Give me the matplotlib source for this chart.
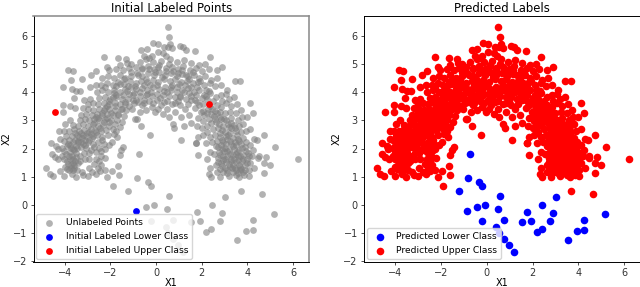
"""Initial labeled points vs predicted labels on the arch-shaped data."""

import matplotlib

matplotlib.use("Agg")
import matplotlib.pyplot as plt
import numpy as np

# points, (x1, x2)
lower_class = [
    (-0.75, 1.79), (-0.83, 0.95), (-0.35, 0.82), (-0.23, 0.67), (-1.21, 0.48),
    (0.57, 0.30), (3.03, 0.27), (2.43, -0.01), (-0.10, -0.01), (-0.44, -0.07),
    (0.48, -0.14), (1.78, -0.27), (2.89, -0.31), (5.16, -0.33), (-0.23, -0.57),
    (0.75, -0.54), (2.78, -0.57), (1.94, -0.57), (1.55, -0.63), (4.25, -0.54),
    (0.42, -0.80), (2.40, -0.88), (2.18, -0.98), (3.93, -0.95), (4.23, -0.89),
    (3.54, -1.26), (0.76, -1.21), (0.96, -1.44), (1.20, -1.67), (0.54, -0.99),
]
start_lower = [(-0.88, -0.21)]
start_upper = [(-4.43, 3.32), (2.30, 3.58)]

upper_outer = [
    (-1.90, 0.67), (3.70, 0.48), (4.65, 0.37), (6.20, 1.63), (5.20, 2.05),
    (0.51, 6.32), (0.58, 5.98), (0.61, 5.71), (0.54, 5.62), (0.69, 5.58),
    (-0.15, 5.77), (0.07, 5.74), (1.05, 5.64), (1.17, 5.62), (1.30, 5.51),
    (1.71, 5.48), (-0.64, 5.50), (-0.41, 5.54), (0.07, 5.44), (0.34, 5.62),
    (0.32, 5.40), (2.37, 5.25), (-2.28, 5.25), (-1.67, 5.23), (-1.32, 5.19),
    (-1.27, 5.05), (-0.51, 5.29), (-0.30, 5.24), (-3.86, 4.81), (-3.65, 4.77),
    (-3.74, 4.44), (-3.25, 4.48), (-4.06, 4.19), (-3.70, 4.12), (-3.49, 4.05),
    (-3.33, 4.05), (-3.58, 3.80), (-4.06, 3.29), (-4.06, 3.54), (-3.77, 3.51),
    (-3.55, 3.45), (-2.62, 4.77), (-2.84, 4.61), (-2.13, 4.90), (2.65, 4.81),
    (2.89, 4.90), (2.16, 5.02), (3.44, 4.42), (3.68, 4.42), (4.12, 3.64),
    (4.23, 3.27), (4.00, 3.11), (4.72, 2.48), (4.44, 2.29), (4.30, 2.33),
    (4.12, 2.70), (3.83, 2.88), (-4.60, 2.19), (-4.24, 2.62), (-4.05, 2.61),
    (-3.79, 3.00), (-3.99, 2.86), (-0.26, 2.49), (-0.64, 2.81), (-0.92, 3.04),
    (1.10, 2.29), (1.75, 2.20), (0.73, 2.88), (0.80, 2.74), (-4.82, 1.31),
    (-4.65, 1.10), (-4.50, 1.02), (-4.57, 1.81), (-4.43, 1.69), (-4.28, 1.63),
    (-4.21, 1.21), (-4.02, 1.04), (-3.52, 1.00), (-3.19, 1.07), (-3.00, 1.04),
    (-2.65, 1.10), (-2.47, 1.19), (-2.15, 0.98), (-1.94, 1.21), (-1.62, 1.06),
    (-1.67, 1.38), (-1.59, 1.77), (-1.43, 2.05), (-1.52, 1.95), (2.34, 1.10),
    (2.41, 1.00), (2.22, 1.63), (1.83, 1.76), (2.37, 1.87), (2.37, 1.31),
    (2.81, 1.00), (3.20, 1.02), (3.65, 0.98), (4.05, 1.04), (4.74, 1.14),
    (4.75, 1.48), (5.00, 1.43), (4.81, 1.71), (4.49, 1.75), (4.46, 1.68),
    (2.18, 2.19), (1.74, 2.19),
]

upper_left_leg = [
    (-4.00, 1.35), (-3.80, 1.25), (-3.70, 1.10), (-3.60, 1.40), (-3.45, 1.25),
    (-3.35, 1.55), (-3.25, 1.15), (-3.85, 1.45), (-2.95, 1.30), (-2.80, 1.15),
    (-2.70, 1.45), (-2.55, 1.30), (-2.40, 1.40), (-2.25, 1.25), (-3.90, 1.55),
    (-3.55, 1.55), (-3.72, 1.32), (-3.62, 1.22), (-3.78, 1.62), (-4.10, 1.72),
    (-3.95, 1.82), (-3.68, 1.75), (-3.50, 1.85), (-3.35, 1.72), (-3.15, 1.85),
    (-2.92, 1.62), (-2.62, 1.62), (-2.42, 1.75), (-2.22, 1.68), (-2.62, 1.88),
    (-2.85, 1.95), (-3.05, 2.02), (-3.28, 2.05), (-3.52, 2.10), (-3.72, 2.02),
    (-3.92, 2.08), (-4.12, 2.02), (-4.30, 1.98), (-4.38, 2.10), (-2.50, 2.02),
    (-2.25, 2.00), (-2.08, 2.12), (-1.95, 2.25), (-2.30, 2.18), (-2.55, 2.25),
    (-2.78, 2.18), (-3.00, 2.22), (-3.20, 2.18), (-3.42, 2.28), (-3.62, 2.22),
    (-3.82, 2.30), (-4.05, 2.28), (-4.22, 2.34), (-3.95, 2.45), (-3.70, 2.45),
    (-3.48, 2.48), (-3.25, 2.38), (-3.05, 2.45), (-2.82, 2.38), (-2.60, 2.48),
    (-2.38, 2.42), (-2.12, 2.48), (-1.85, 2.52), (-1.70, 2.40), (-1.90, 2.70),
    (-2.20, 2.66), (-2.42, 2.62), (-2.68, 2.66), (-2.92, 2.60), (-3.15, 2.65),
    (-3.38, 2.62), (-3.60, 2.68), (-3.82, 2.62), (-3.62, 2.85), (-3.40, 2.82),
    (-3.20, 2.88), (-2.98, 2.80), (-2.75, 2.86), (-2.55, 2.80), (-2.32, 2.85),
    (-2.08, 2.82), (-1.82, 2.88), (-1.60, 2.78), (-1.48, 2.95), (-1.72, 3.02),
    (-1.98, 3.00), (-2.25, 3.04), (-2.48, 3.00), (-2.70, 3.05), (-2.92, 3.00),
    (-3.12, 3.06), (-3.35, 3.00), (-3.28, 3.20), (-3.05, 3.22), (-2.82, 3.18),
    (-2.60, 3.24), (-2.38, 3.18), (-2.15, 3.22), (-1.90, 3.18), (-1.65, 3.24),
    (-1.40, 3.15), (-1.30, 3.38), (-1.55, 3.42), (-1.80, 3.38), (-2.05, 3.40),
    (-2.30, 3.36), (-2.52, 3.42), (-2.75, 3.38), (-2.98, 3.42), (-3.00, 3.60),
    (-2.78, 3.62), (-2.55, 3.58), (-2.30, 3.62), (-2.08, 3.58), (-1.82, 3.62),
    (-1.60, 3.60), (-1.35, 3.58), (-3.15, 3.72), (-2.90, 3.78), (-3.20, 3.45),
    (-3.42, 2.22), (-3.75, 1.88), (-3.12, 1.62), (-2.48, 1.55), (-2.85, 2.52),
    (-3.30, 2.55), (-2.05, 2.95), (-1.75, 2.62), (-2.95, 1.85), (-3.58, 1.95),
    (-3.88, 2.18), (-3.55, 2.55), (-2.65, 3.12), (-2.15, 3.50), (-2.40, 1.92),
    (-2.72, 2.05), (-2.35, 2.30), (-3.10, 2.30), (-4.02, 1.92), (-3.65, 1.48),
]

upper_crown = [
    (-2.50, 3.80), (-2.25, 3.85), (-2.00, 3.78), (-1.75, 3.82), (-1.50, 3.78),
    (-1.25, 3.76), (-1.00, 3.72), (-0.80, 3.66), (-0.60, 3.55), (-0.42, 3.38),
    (-0.20, 3.48), (-0.05, 3.30), (0.10, 3.42), (0.30, 3.22), (0.48, 3.40),
    (0.55, 3.12), (0.85, 3.30), (1.10, 3.12), (1.25, 3.42), (1.45, 3.20),
    (1.55, 2.92), (1.22, 2.82), (1.05, 3.55), (0.70, 3.60), (0.35, 3.66),
    (0.05, 3.72), (-0.30, 3.70), (-0.70, 3.30), (-1.05, 3.42), (-0.85, 3.05),
    (-1.20, 3.95), (-0.95, 3.98), (-0.70, 3.88), (-0.45, 3.92), (-0.20, 3.88),
    (0.05, 3.95), (0.30, 3.90), (0.58, 3.88), (0.82, 3.82), (1.05, 3.88),
    (1.30, 3.78), (1.55, 3.72), (1.80, 3.66), (2.05, 3.60), (1.72, 3.45),
    (1.98, 3.32), (-2.60, 4.02), (-2.35, 4.08), (-2.10, 4.00), (-1.85, 4.08),
    (-1.60, 4.02), (-1.35, 4.12), (-1.10, 4.18), (-0.88, 4.12), (-0.62, 4.15),
    (-0.38, 4.10), (-0.12, 4.18), (0.12, 4.12), (0.40, 4.20), (0.65, 4.10),
    (0.90, 4.18), (1.15, 4.08), (1.40, 4.15), (1.65, 4.02), (1.90, 4.08),
    (2.12, 3.92), (2.38, 3.98), (2.62, 3.82), (2.85, 3.92), (-2.90, 4.20),
    (-2.65, 4.28), (-2.40, 4.25), (-2.15, 4.35), (-1.90, 4.28), (-1.65, 4.38),
    (-1.40, 4.30), (-1.15, 4.40), (-0.90, 4.35), (-0.65, 4.42), (-0.40, 4.36),
    (-0.15, 4.45), (0.10, 4.38), (0.35, 4.48), (0.60, 4.40), (0.85, 4.48),
    (1.10, 4.38), (1.35, 4.42), (1.60, 4.32), (1.85, 4.38), (2.10, 4.25),
    (2.35, 4.32), (2.60, 4.22), (2.85, 4.28), (3.10, 4.10), (-2.35, 4.52),
    (-2.10, 4.58), (-1.85, 4.50), (-1.60, 4.62), (-1.35, 4.52), (-1.10, 4.60),
    (-0.85, 4.68), (-0.60, 4.58), (-0.35, 4.70), (-0.10, 4.62), (0.15, 4.72),
    (0.40, 4.62), (0.65, 4.68), (0.90, 4.60), (1.15, 4.66), (1.40, 4.58),
    (1.65, 4.62), (1.90, 4.52), (2.15, 4.58), (2.40, 4.45), (2.68, 4.50),
    (-2.05, 4.80), (-1.75, 4.85), (-1.45, 4.78), (-1.20, 4.86), (-0.90, 4.90),
    (-0.62, 4.82), (-0.35, 4.95), (-0.10, 4.85), (0.15, 4.98), (0.42, 4.88),
    (0.70, 4.92), (0.95, 4.82), (1.20, 4.95), (1.48, 4.80), (1.75, 4.88),
    (2.00, 4.76), (2.30, 4.82), (-1.60, 4.98), (-1.08, 5.02), (-0.72, 5.10),
    (-0.42, 5.18), (-0.12, 5.10), (0.22, 5.12), (0.62, 5.20), (0.92, 5.10),
    (1.22, 5.14), (1.52, 5.05), (1.90, 4.98), (-0.20, 5.30), (0.45, 5.28),
    (-1.85, 3.98), (-1.45, 3.92), (-0.95, 3.62), (-0.55, 3.72), (0.20, 3.55),
    (0.50, 4.02), (0.95, 3.70), (1.45, 3.98), (1.75, 3.90), (2.25, 3.75),
    (-0.55, 4.25), (-0.25, 4.28), (0.70, 4.28), (1.00, 4.30), (1.25, 4.25),
    (1.55, 4.18), (-1.25, 4.22), (-1.75, 4.22), (-2.25, 4.20), (2.20, 4.10),
]

upper_right_leg = [
    (2.05, 3.35), (2.25, 3.28), (2.45, 3.42), (2.65, 3.55), (2.85, 3.48),
    (3.05, 3.62), (3.30, 3.52), (3.55, 3.60), (3.72, 3.38), (3.52, 3.28),
    (3.25, 3.30), (3.00, 3.25), (2.78, 3.30), (2.55, 3.15), (2.30, 3.05),
    (2.05, 2.98), (1.85, 3.10), (1.80, 2.82), (2.00, 2.72), (2.22, 2.82),
    (2.42, 2.92), (2.62, 2.95), (2.85, 3.05), (3.08, 3.02), (3.30, 3.08),
    (3.58, 3.02), (3.78, 3.12), (3.62, 2.82), (3.40, 2.85), (3.18, 2.78),
    (2.95, 2.82), (2.72, 2.72), (2.48, 2.68), (2.25, 2.58), (2.05, 2.48),
    (1.85, 2.40), (2.38, 2.42), (2.58, 2.50), (2.80, 2.55), (3.02, 2.58),
    (3.25, 2.55), (3.48, 2.62), (3.70, 2.58), (3.92, 2.62), (3.80, 2.38),
    (3.58, 2.35), (3.35, 2.38), (3.12, 2.35), (2.90, 2.32), (2.68, 2.28),
    (2.45, 2.22), (2.62, 2.08), (2.85, 2.12), (3.05, 2.15), (3.28, 2.18),
    (3.50, 2.12), (3.72, 2.18), (3.95, 2.25), (4.12, 2.12), (3.90, 2.05),
    (3.65, 1.95), (3.42, 1.98), (3.20, 1.95), (2.98, 1.92), (2.75, 1.88),
    (2.55, 1.82), (2.70, 1.68), (2.92, 1.72), (3.12, 1.75), (3.35, 1.78),
    (3.58, 1.72), (3.80, 1.78), (4.02, 1.85), (4.25, 1.95), (4.20, 1.72),
    (3.98, 1.62), (3.75, 1.55), (3.52, 1.52), (3.30, 1.55), (3.08, 1.52),
    (2.85, 1.48), (2.62, 1.42), (2.78, 1.28), (3.00, 1.32), (3.22, 1.35),
    (3.45, 1.30), (3.68, 1.35), (3.90, 1.40), (4.10, 1.48), (4.28, 1.32),
    (4.05, 1.22), (3.82, 1.18), (3.58, 1.12), (3.38, 1.15), (3.12, 1.12),
    (2.92, 1.15), (2.65, 1.15), (3.50, 1.05), (3.85, 1.05), (3.02, 2.02),
    (3.28, 1.62), (3.62, 1.42), (2.95, 1.60), (3.45, 2.25), (2.78, 2.42),
    (3.15, 2.48), (3.68, 1.25), (3.35, 1.42), (3.48, 1.82), (3.10, 1.25),
    (2.88, 2.00), (3.75, 2.02), (3.55, 2.48), (3.30, 2.72), (2.60, 3.35),
    (2.35, 3.52), (2.90, 3.68), (3.20, 3.78), (3.42, 3.82), (3.05, 3.95),
]

# the darker ridge of the arch, where the points pile up
upper_ridge = [
    (-4.02, 1.62), (-3.92, 1.28), (-3.82, 1.72), (-3.74, 1.42), (-3.66, 1.62),
    (-3.58, 1.30), (-3.52, 1.70), (-3.44, 1.48), (-3.76, 2.12), (-3.66, 1.98),
    (-3.56, 2.32), (-3.46, 2.02), (-3.36, 2.40), (-3.28, 2.22), (-3.18, 2.48),
    (-3.10, 2.12), (-3.02, 2.56), (-2.94, 2.32), (-2.86, 2.70), (-2.78, 2.46),
    (-2.70, 2.92), (-2.62, 2.58), (-2.54, 3.08), (-2.46, 2.74), (-2.38, 3.28),
    (-2.30, 2.96), (-2.22, 3.44), (-2.14, 3.10), (-2.06, 3.68), (-1.98, 3.28),
    (-1.90, 3.84), (-1.82, 3.50), (-1.74, 3.92), (-1.66, 3.18), (-1.58, 4.30),
    (-1.50, 3.42), (-1.42, 4.46), (-1.34, 3.66), (-1.26, 4.06), (-1.18, 3.52),
    (-1.10, 4.72), (-1.02, 3.92), (-0.94, 4.24), (-0.86, 3.74), (-0.78, 4.62),
    (-0.70, 4.02), (-0.62, 4.88), (-0.54, 3.62), (-0.46, 4.48), (-0.38, 3.96),
    (-0.30, 4.82), (-0.22, 4.02), (-0.14, 3.62), (-0.06, 4.74), (0.02, 4.28),
    (0.10, 4.90), (0.18, 3.80), (0.26, 4.56), (0.34, 4.04), (0.42, 4.76),
    (0.50, 3.70), (0.58, 5.02), (0.66, 4.18), (0.74, 4.76), (0.82, 3.62),
    (0.90, 4.02), (0.98, 4.70), (1.06, 3.82), (1.14, 4.80), (1.22, 4.00),
    (1.30, 4.62), (1.38, 3.60), (1.46, 4.46), (1.54, 3.88), (1.62, 4.72),
    (1.70, 3.72), (1.78, 4.18), (1.86, 3.54), (1.94, 4.40), (2.02, 3.80),
    (2.10, 3.18), (2.18, 3.88), (2.26, 3.42), (2.34, 4.06), (2.42, 3.22),
    (2.50, 3.70), (2.58, 3.04), (2.66, 3.28), (2.74, 2.88), (2.82, 3.12),
    (2.90, 2.66), (2.98, 3.04), (3.06, 2.46), (3.14, 2.86), (3.22, 2.26),
    (3.30, 2.92), (3.38, 2.08), (3.46, 2.72), (3.54, 1.88), (3.62, 2.28),
    (2.72, 2.06), (2.82, 1.78), (2.92, 2.22), (3.00, 1.62), (3.10, 1.90),
    (3.18, 1.44), (3.26, 1.82), (3.34, 1.30), (3.42, 1.62), (3.50, 1.22),
    (3.58, 1.58), (3.66, 1.72), (3.74, 1.28), (3.82, 1.62), (3.90, 1.22),
    (3.98, 1.48), (4.06, 1.72), (3.94, 1.92), (2.88, 1.38), (2.72, 1.52),
]

x_ticks = [-4, -2, 0, 2, 4, 6]
y_ticks = [-2, -1, 0, 1, 2, 3, 4, 5, 6]

plt.rcParams["font.size"] = 7

lower = np.array(lower_class)
first_lower = np.array(start_lower)
first_upper = np.array(start_upper)
upper = np.array(upper_outer + upper_left_leg + upper_crown + upper_right_leg + upper_ridge)
upper_all = np.vstack([upper, first_upper])
lower_all = np.vstack([lower, first_lower])
unlabeled = np.vstack([upper, lower])

fig = plt.figure(figsize=(6.4, 2.87), dpi=100)
ax1 = fig.add_axes([33.5 / 640, 1 - 261.5 / 287, 275.5 / 640, 245.5 / 287])
ax2 = fig.add_axes([364 / 640, 1 - 261.5 / 287, 276 / 640, 245.5 / 287])

ax1.scatter(unlabeled[:, 0], unlabeled[:, 1], s=24, c="gray", alpha=0.6, linewidths=0,
            label="Unlabeled Points")
ax1.scatter(first_lower[:, 0], first_lower[:, 1], s=24, c="blue", linewidths=0,
            label="Initial Labeled Lower Class")
ax1.scatter(first_upper[:, 0], first_upper[:, 1], s=24, c="red", linewidths=0,
            label="Initial Labeled Upper Class")
ax1.set_title("Initial Labeled Points", fontsize=8.4, pad=3)

ax2.scatter(lower_all[:, 0], lower_all[:, 1], s=30, c="blue", linewidths=0,
            label="Predicted Lower Class")
ax2.scatter(upper_all[:, 0], upper_all[:, 1], s=30, c="red", linewidths=0,
            label="Predicted Upper Class")
ax2.set_title("Predicted Labels", fontsize=8.4, pad=3)

for ax in (ax1, ax2):
    ax.set_xlim(-5.37, 6.7)
    ax.set_ylim(-2.02, 6.72)
    ax.set_xticks(x_ticks)
    ax.set_yticks(y_ticks)
    ax.set_xlabel("X1", fontsize=7, labelpad=0)
    ax.set_ylabel("X2", fontsize=7, labelpad=1)
    ax.tick_params(length=2.5, width=0.6, pad=2, labelsize=7, colors="#333333")
    ax.legend(loc="lower left", fontsize=6.6, borderaxespad=0.3, handletextpad=0.8,
              labelspacing=0.55, borderpad=0.4)
    for spine in ax.spines.values():
        spine.set_linewidth(0.7)

# the left panel's top and right frame look washed out in the reference
for side in ("top", "right"):
    ax1.spines[side].set_color("#888888")
    ax1.spines[side].set_linewidth(1.1)

fig.savefig("out.png", dpi=100)
